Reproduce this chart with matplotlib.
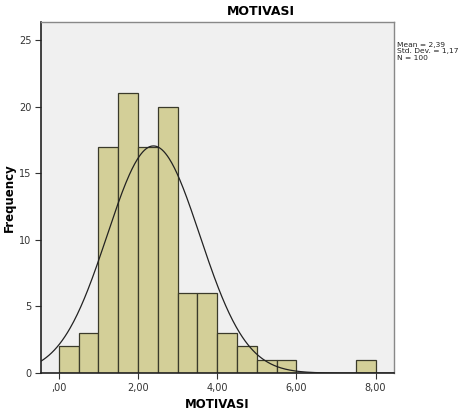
import numpy as np
import matplotlib.pyplot as plt

# data histogram MOTIVASI (lebar kelas 0,5)
bin_left = [0.0, 0.5, 1.0, 1.5, 2.0, 2.5, 3.0, 3.5, 4.0, 4.5, 5.0, 5.5, 7.5]
freq = [2, 3, 17, 21, 17, 20, 6, 6, 3, 2, 1, 1, 1]
bin_width = 0.5
mean, sd, n = 2.39, 1.17, 100
xticks = [0, 2, 4, 6, 8]
xticklabels = [',00', '2,00', '4,00', '6,00', '8,00']
yticks = [0, 5, 10, 15, 20, 25]

fig = plt.figure(figsize=(4.63, 4.15), dpi=100)
ax = fig.add_axes([0.0886, 0.101, 0.762, 0.846])
ax.set_facecolor('#f0f0f0')

ax.bar(bin_left, freq, width=bin_width, align='edge',
       color='#d3cf98', edgecolor='#3a3a2a', linewidth=0.9, zorder=2)

# kurva normal
x = np.linspace(-0.45, 8.45, 400)
y = n * bin_width / (sd * np.sqrt(2 * np.pi)) * np.exp(-0.5 * ((x - mean) / sd) ** 2)
ax.plot(x, y, color='#222222', linewidth=0.9, zorder=3)

ax.set_xlim(-0.45, 8.46)
ax.set_ylim(0, 26.35)
ax.set_xticks(xticks)
ax.set_xticklabels(xticklabels)
ax.set_yticks(yticks)
ax.tick_params(direction='out', length=4, width=0.8, labelsize=7,
               labelcolor='#333333', color='#333333', pad=3)

for s in ['left', 'bottom']:
    ax.spines[s].set_color('#222222')
    ax.spines[s].set_linewidth(1.2)
for s in ['top', 'right']:
    ax.spines[s].set_color('#888888')
    ax.spines[s].set_linewidth(1.0)

ax.set_title('MOTIVASI', fontsize=9, fontweight='bold', x=0.623, pad=5)
ax.set_xlabel('MOTIVASI', fontsize=8.5, fontweight='bold')
ax.set_ylabel('Frequency', fontsize=8.5, fontweight='bold')
ax.xaxis.set_label_coords(0.5, -0.071)
ax.yaxis.set_label_coords(-0.072, 0.5)

fig.text(397 / 463, 1 - 42 / 415,
         'Mean = 2,39\nStd. Dev. = 1,17\nN = 100',
         fontsize=5.4, va='top', ha='left', color='#222222', linespacing=1.1)

fig.savefig('out.png', dpi=100, facecolor='white')
